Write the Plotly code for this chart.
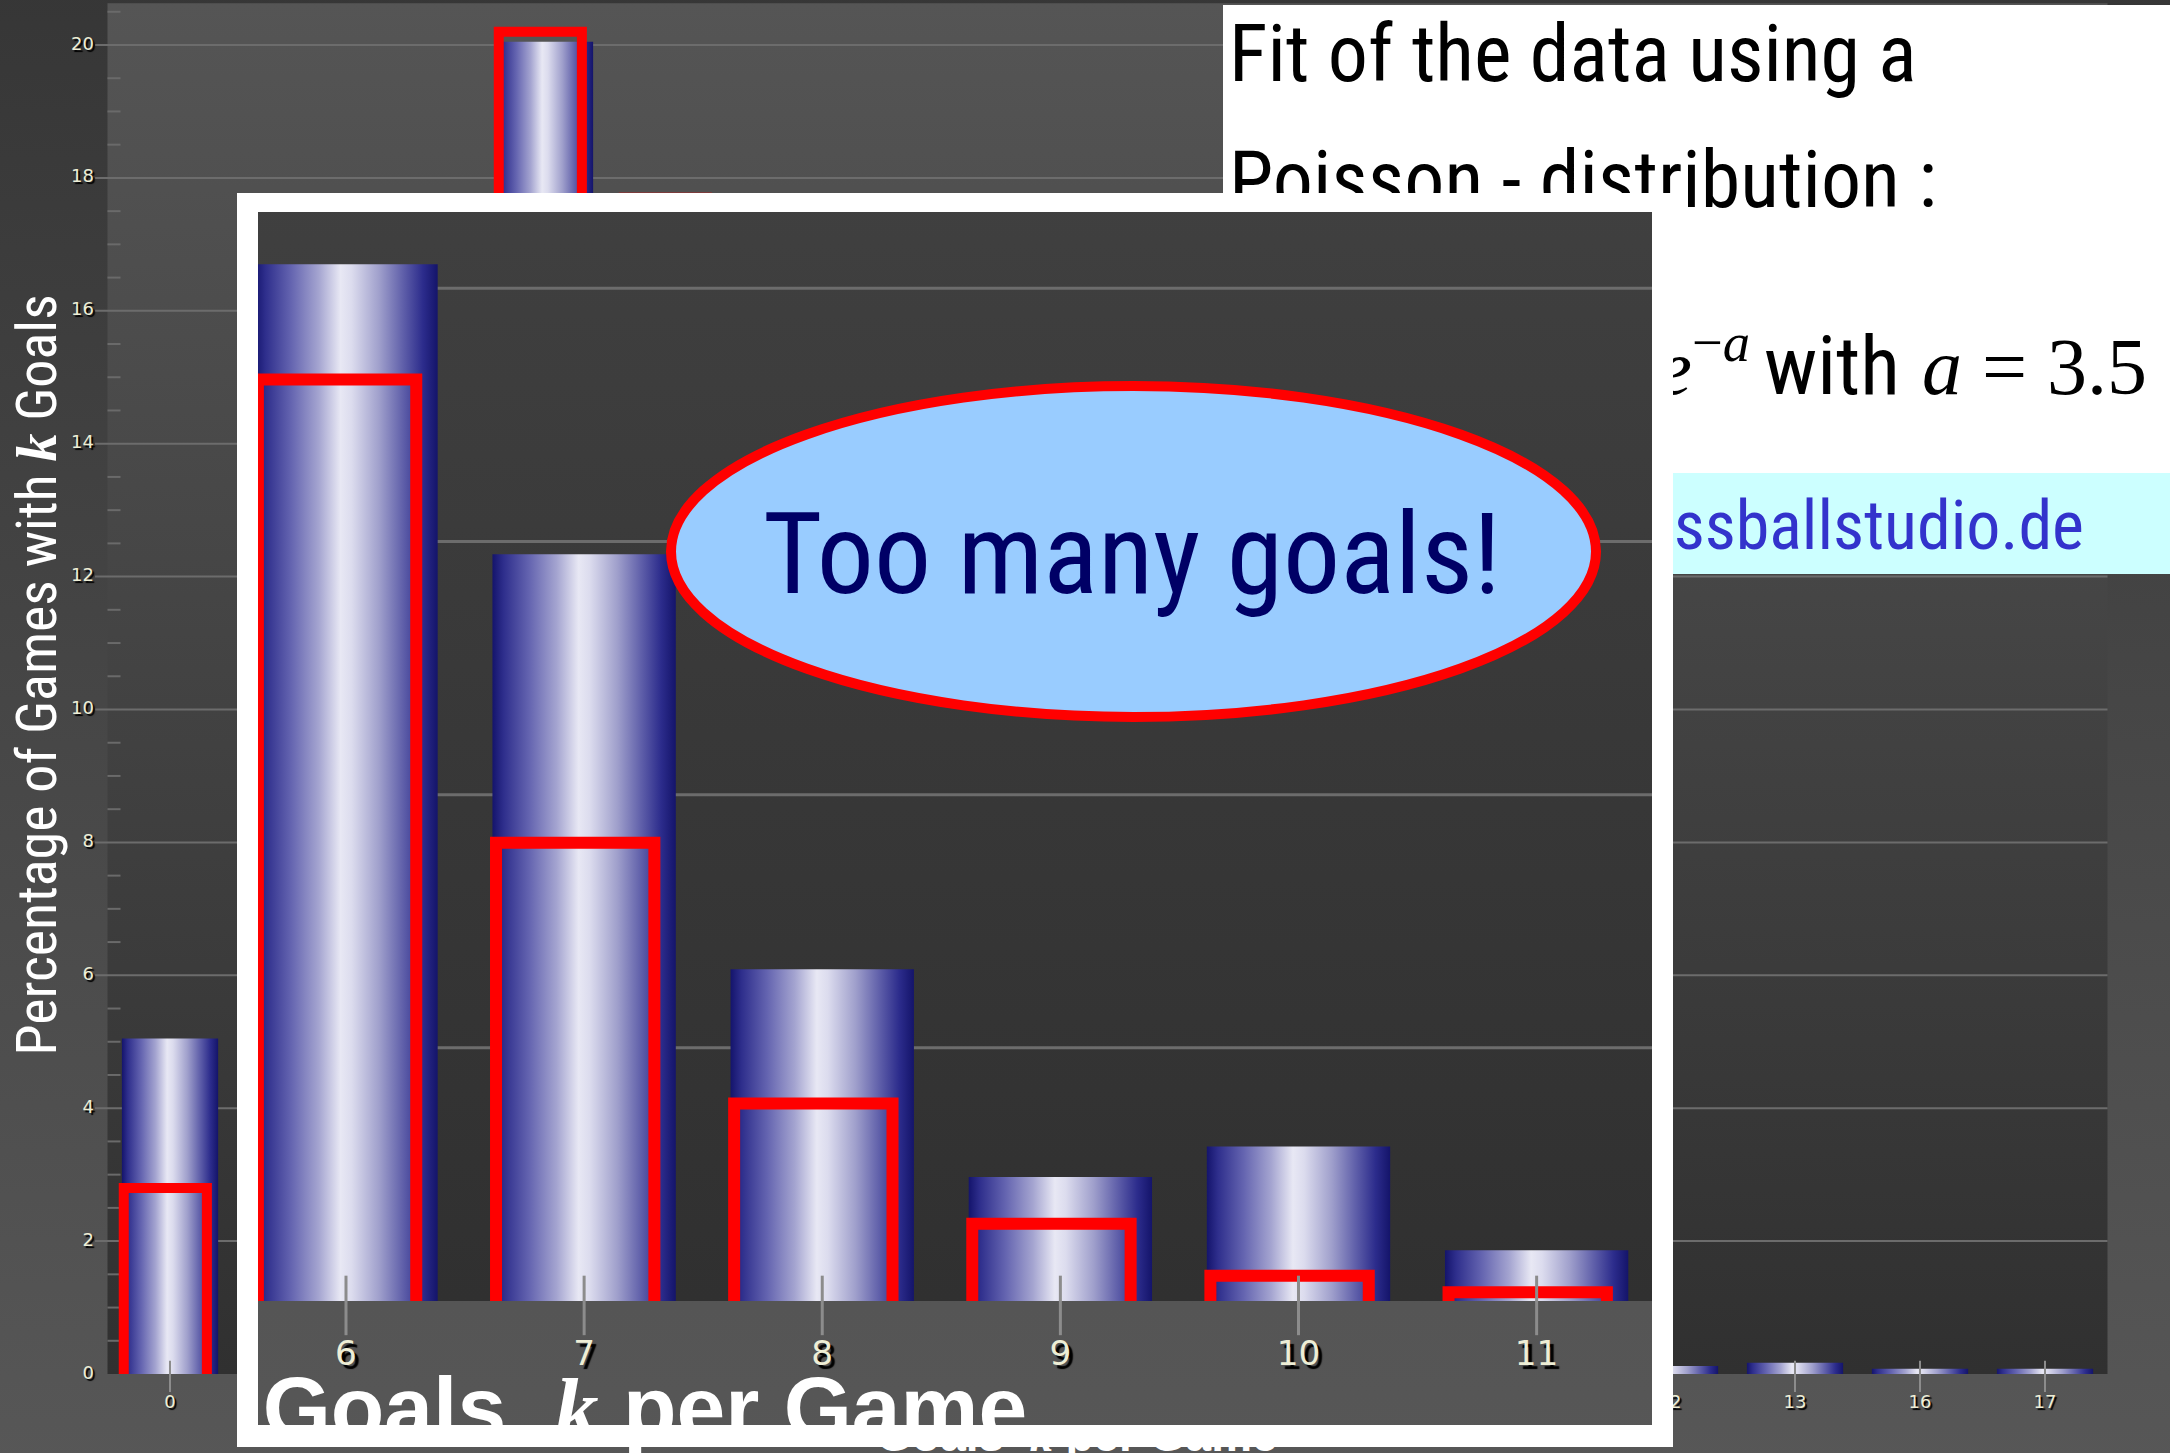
import plotly.graph_objects as go

# ---------------------------------------------------------------- data ----
goals = ["0", "1", "2", "3", "4", "5", "6", "7", "8", "9", "10", "11",
         "12", "13", "16", "17"]
observed_pct = [5.05, 11.5, 17.0, 20.05, 16.0, 11.0, 8.19, 5.9, 2.62, 0.98,
                1.22, 0.40, 0.12, 0.17, 0.08, 0.08]
poisson_pct = [2.8, 9.9, 17.3, 20.2, 17.7, 12.4, 7.28, 3.62, 1.56, 0.61,
               0.20, 0.07]
y_ticks = list(range(0, 21, 2))
poisson_mean = 3.5

W, H = 2170, 1453

NARROW = "Roboto Condensed, Liberation Sans Narrow, sans-serif"
SANS = "Liberation Sans, Arial, sans-serif"
SERIF = "Liberation Serif, Times New Roman, serif"
TICKFONT = "DejaVu Sans, Verdana, sans-serif"

BAR_SCALE = [[0.0, "#14146c"], [0.06, "#2e2e8c"], [0.2, "#6464b0"],
             [0.35, "#a4a4d0"], [0.47, "#e8e8f4"], [0.53, "#dcdcee"],
             [0.68, "#a0a0cc"], [0.81, "#6060aa"], [0.92, "#2c2c8c"],
             [1.0, "#14146a"]]

# ------------------------------------------------------------ geometry ----
# Each view maps category index / percent onto figure pixels; the inset
# shows the same chart magnified around categories 6 to 11.
ZOOM = 1.905
MAIN = dict(ix0=170.0, dx=125.0, y0=1374.0, dy=66.45, box=(0, 0, W, H))
INSET = dict(ix0=346.0 - 6 * 125.0 * ZOOM, dx=125.0 * ZOOM, y0=1301.0,
             dy=66.45 * ZOOM, box=(237, 193, 1673, 1447))
PANEL_BOX = (1223, 4, W, 574)


def px_to_x(v, px):
    return (px - v["ix0"]) / v["dx"]


def px_to_y(v, py):
    return (v["y0"] - py) / v["dy"]


def rect(x0, x1, y0, y1):
    return [x0, x1, x1, x0, x0], [y0, y0, y1, y1, y0]


BAR_HALF = 0.385
FIT_LEFT, FIT_RIGHT = -0.37, 0.295
PLOT_TOP = 20.63


def add_chart(fig, xa, ya, s, title_y, grid_w, red_w, tick_w):
    common = dict(xaxis=xa, yaxis=ya, hoverinfo="skip", showlegend=False)
    n = len(goals)

    # surroundings: dark at the top, lighter towards the bottom
    xs, ys = rect(-1.5, n + 0.6, -1.4, 21.0)
    fig.add_trace(go.Scatter(
        x=xs, y=ys, mode="lines", line=dict(width=0), fill="toself",
        fillgradient=dict(type="vertical",
                          colorscale=[[0, "#575757"], [1, "#363636"]]),
        **common))

    # plot area: lighter at the top
    xs, ys = rect(-0.5, n - 0.5, 0, PLOT_TOP)
    fig.add_trace(go.Scatter(
        x=xs, y=ys, mode="lines", line=dict(width=0), fill="toself",
        fillgradient=dict(type="vertical",
                          colorscale=[[0, "#303030"], [1, "#555555"]]),
        **common))

    # grid lines
    gx, gy = [], []
    for t in y_ticks[1:]:
        gx += [-0.6, n - 0.5, None]
        gy += [t, t, None]
    fig.add_trace(go.Scatter(x=gx, y=gy, mode="lines",
                             line=dict(color="#6c6c6c", width=grid_w),
                             **common))

    # minor ticks along the value axis
    mx, my = [], []
    v = 0.5
    while v < PLOT_TOP:
        if abs(v / 2 - round(v / 2)) > 1e-6:
            mx += [-0.5, -0.396, None]
            my += [v, v, None]
        v += 0.5
    fig.add_trace(go.Scatter(x=mx, y=my, mode="lines",
                             line=dict(color="#6a6a6a", width=grid_w),
                             **common))

    # value labels
    fig.add_trace(go.Scatter(
        x=[-0.608] * len(y_ticks), y=y_ticks, mode="text",
        text=[str(t) for t in y_ticks], textposition="middle left",
        textfont=dict(family=TICKFONT, size=18 * s, color="#eeeed6",
                      shadow=f"{2*s:.0f}px {2*s:.0f}px 1px #000000"),
        cliponaxis=False, **common))

    # observed shares as shaded columns
    for i, val in enumerate(observed_pct):
        xs, ys = rect(i - BAR_HALF, i + BAR_HALF, 0, val)
        fig.add_trace(go.Scatter(
            x=xs, y=ys, mode="lines", line=dict(width=0), fill="toself",
            fillgradient=dict(type="horizontal", colorscale=BAR_SCALE,
                              start=i - BAR_HALF, stop=i + BAR_HALF),
            **common))

    # Poisson fit as open red boxes
    rx, ry = [], []
    for i, p in enumerate(poisson_pct):
        rx += [i + FIT_LEFT, i + FIT_LEFT, i + FIT_RIGHT, i + FIT_RIGHT, None]
        ry += [0, p, p, 0, None]
    fig.add_trace(go.Scatter(x=rx, y=ry, mode="lines",
                             line=dict(color="#ff0000", width=red_w),
                             **common))

    # category tick marks
    tx, ty = [], []
    for i in range(n):
        tx += [i, i, None]
        ty += [-0.27, 0.2, None]
    fig.add_trace(go.Scatter(x=tx, y=ty, mode="lines",
                             line=dict(color="#8c8c8c", width=tick_w),
                             **common))

    # category labels
    fig.add_trace(go.Scatter(
        x=list(range(n)), y=[-0.44] * n, mode="text", text=goals,
        textposition="middle center",
        textfont=dict(family=TICKFONT, size=18 * s, color="#eeeed6",
                      shadow=f"{2*s:.0f}px {2*s:.0f}px 1px #000000"),
        cliponaxis=False, **common))

    # category axis title
    fig.add_trace(go.Scatter(
        x=[5.65], y=[title_y], mode="text",
        text=["Goals  <span style='font-family:Liberation Serif'><i>k</i></span> per Game"],
        textposition="middle right",
        textfont=dict(family=SANS, size=46 * s, color="#ffffff", weight="bold"),
        cliponaxis=False, **common))


fig = go.Figure()

# ---- full chart -----------------------------------------------------------
add_chart(fig, "x", "y", 1.0, -0.993, 2, 10, 2)

# ---- panel with the fit description --------------------------------------
pc = dict(xaxis="x2", yaxis="y2", hoverinfo="skip", showlegend=False)
xs, ys = rect(1223, W, 5, 473)
fig.add_trace(go.Scatter(x=xs, y=ys, mode="lines", line=dict(width=0),
                         fill="toself", fillcolor="#ffffff", **pc))
xs, ys = rect(1223, W, 473, 574)
fig.add_trace(go.Scatter(x=xs, y=ys, mode="lines", line=dict(width=0),
                         fill="toself", fillcolor="#ccffff", **pc))
fig.add_trace(go.Scatter(
    x=[1229, 1229], y=[61, 187], mode="text",
    text=["Fit of the data using a", "Poisson - distribution :"],
    textposition="middle right",
    textfont=dict(family=NARROW, size=80, color="#000000"), **pc))
fig.add_trace(go.Scatter(
    x=[1750], y=[374], mode="text",
    text=["<i>P</i>(<i>k</i>) = <i>a</i><sup><i>k</i></sup>/<i>k</i>!  <i>e</i><sup>\u2212<i>a</i></sup>"],
    textposition="middle left",
    textfont=dict(family=SERIF, size=78, color="#000000"), **pc))
fig.add_trace(go.Scatter(
    x=[1764], y=[373.5], mode="text", text=["with"],
    textposition="middle right",
    textfont=dict(family=NARROW, size=82, color="#000000"), **pc))
fig.add_trace(go.Scatter(
    x=[1922], y=[374], mode="text", text=[f"<i>a</i> = {poisson_mean}"],
    textposition="middle right",
    textfont=dict(family=SERIF, size=80, color="#000000"), **pc))
fig.add_trace(go.Scatter(
    x=[2084], y=[532], mode="text", text=["www.fussballstudio.de"],
    textposition="middle left",
    textfont=dict(family=NARROW, size=68, color="#3333cc"), **pc))

# ---- magnified inset --------------------------------------------------------
add_chart(fig, "x3", "y3", ZOOM, px_to_y(INSET, 1416.5), 3, 12, 3)

ox0, oy0, ox1, oy1 = INSET["box"]
inner = (258, 212, 1652, 1425)
X = lambda px: px_to_x(INSET, px)
Y = lambda py: px_to_y(INSET, py)
fx, fy = [], []
for a, b, c, d in [(ox0, ox1, oy0, inner[1]), (ox0, ox1, inner[3], oy1),
                   (ox0, inner[0], oy0, oy1), (inner[2], ox1, oy0, oy1)]:
    xs, ys = rect(X(a), X(b), Y(c), Y(d))
    fx += xs + [None]
    fy += ys + [None]
fig.add_trace(go.Scatter(x=fx, y=fy, mode="lines", line=dict(width=0),
                         fill="toself", fillcolor="#ffffff",
                         xaxis="x3", yaxis="y3", hoverinfo="skip",
                         showlegend=False))


def axis_pair(v):
    bx0, by0, bx1, by1 = v["box"]
    xr = [px_to_x(v, bx0), px_to_x(v, bx1)]
    yr = [px_to_y(v, by1), px_to_y(v, by0)]
    dx = [bx0 / W, bx1 / W]
    dy = [1 - by1 / H, 1 - by0 / H]
    return xr, yr, dx, dy


hidden = dict(visible=False, showgrid=False, zeroline=False, fixedrange=True)
xr, yr, dxm, dym = axis_pair(MAIN)
xr3, yr3, dx3, dy3 = axis_pair(INSET)
pb = PANEL_BOX

fig.update_layout(
    width=W, height=H,
    margin=dict(l=0, r=0, t=0, b=0),
    paper_bgcolor="#454545",
    plot_bgcolor="rgba(0,0,0,0)",
    showlegend=False,
    xaxis=dict(range=xr, domain=dxm, **hidden),
    yaxis=dict(range=yr, domain=dym, **hidden),
    xaxis2=dict(range=[pb[0], pb[2]], domain=[pb[0] / W, 1],
                anchor="y2", **hidden),
    yaxis2=dict(range=[pb[3], pb[1]], domain=[1 - pb[3] / H, 1 - pb[1] / H],
                anchor="x2", **hidden),
    xaxis3=dict(range=xr3, domain=dx3, anchor="y3", **hidden),
    yaxis3=dict(range=yr3, domain=dy3, anchor="x3", **hidden),
    shapes=[dict(type="circle", xref="paper", yref="paper", layer="above",
                 x0=671 / W, x1=1596 / W, y0=1 - 717 / H, y1=1 - 386 / H,
                 fillcolor="#99ccff", line=dict(color="#ff0000", width=10))],
    annotations=[
        dict(text="Too many goals!", xref="paper", yref="paper",
             x=1132 / W, y=1 - 553.5 / H, xanchor="center", yanchor="middle",
             showarrow=False,
             font=dict(family=NARROW, size=114, color="#000066")),
        dict(text="Percentage of Games with <span style='font-family:Liberation Serif'><b><i>k</i></b></span> Goals",
             xref="paper", yref="paper", x=36 / W, y=1 - 675.5 / H,
             xanchor="center", yanchor="middle", textangle=-90,
             showarrow=False,
             font=dict(family=NARROW, size=56, color="#ffffff")),
    ],
)

fig.write_html("out.html")
